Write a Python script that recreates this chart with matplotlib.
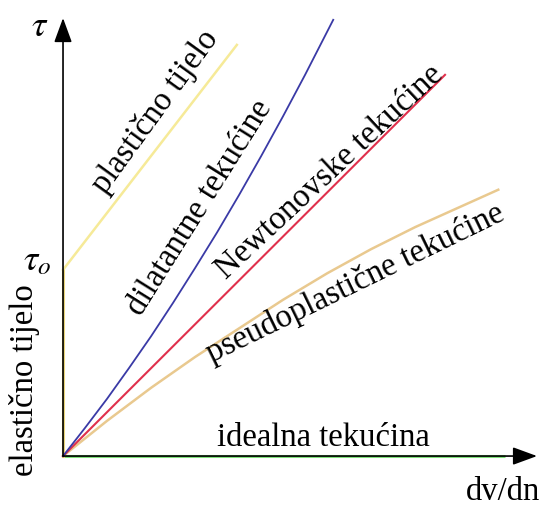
import matplotlib.pyplot as plt

plt.rcParams['font.family'] = ['Liberation Serif', 'DejaVu Serif']
plt.rcParams['mathtext.fontset'] = 'stix'

# shear rate (dv/dn) vs shear stress (tau), arbitrary units
ideal_x = [0, 10.05]
ideal_y = [0, 0]

elastic_x = [0, 0]
elastic_y = [0, 4.23]

plastic_x = [0, 3.95]
plastic_y = [4.23, 9.34]

newton_x = [0, 8.68]
newton_y = [0, 8.66]

dilatant_x = [0, 0.5, 1, 1.5, 2, 2.5, 3, 3.5, 4, 4.5, 5, 5.5, 6.14]
dilatant_y = [0, 0.64, 1.3, 2.0, 2.72, 3.48, 4.27, 5.08, 5.93, 6.81, 7.72, 8.66, 9.91]

pseudo_x = [0, 1, 2, 3, 4, 5, 6, 7, 8, 9, 9.89]
pseudo_y = [0, 0.8, 1.55, 2.25, 2.9, 3.55, 4.15, 4.7, 5.2, 5.65, 6.05]

fig = plt.figure(figsize=(5.48, 5.08), dpi=100)
ax = fig.add_axes([0, 0, 1, 1])
ax.set_xlim(-1.432, 11.02)
ax.set_ylim(-1.18, 10.36)
ax.axis('off')

# axes arrows
ax.annotate('', xy=(0, 9.95), xytext=(0, 0),
            arrowprops=dict(arrowstyle='-|>,head_length=0.6,head_width=0.22',
                            color='black', lw=1.2, mutation_scale=25,
                            shrinkA=0, shrinkB=0))
ax.annotate('', xy=(10.77, 0), xytext=(0, 0),
            arrowprops=dict(arrowstyle='-|>,head_length=0.6,head_width=0.22',
                            color='black', lw=1.2, mutation_scale=25,
                            shrinkA=0, shrinkB=0))

ax.plot(ideal_x, ideal_y, color='#7fe07a', lw=2.2, solid_capstyle='butt')
ax.plot(elastic_x, elastic_y, color='#ead67a', lw=2.2)
ax.plot(plastic_x, plastic_y, color='#f6ea98', lw=1.8)
ax.plot(pseudo_x, pseudo_y, color='#e9c98f', lw=1.8)
ax.plot(newton_x, newton_y, color='#e0304c', lw=1.5)
ax.plot(dilatant_x, dilatant_y, color='#3a3aa6', lw=1.3)

fs = 23.5
ax.text(-0.52, 9.73, r'$\tau$', fontsize=26, ha='center', va='center')
ax.text(-0.58, 4.41, r'$\tau_o$', fontsize=26, ha='center', va='center')
ax.text(2.09, 7.82, 'plastično tijelo', fontsize=fs, rotation=54,
        ha='center', va='center', rotation_mode='anchor')
ax.text(3.1, 5.64, 'dilatantne tekućine', fontsize=fs, rotation=58,
        ha='center', va='center', rotation_mode='anchor')
ax.text(6.05, 6.45, 'Newtonovske tekućine', fontsize=fs, rotation=43,
        ha='center', va='center', rotation_mode='anchor')
ax.text(6.64, 3.93, 'pseudoplastične tekućine', fontsize=fs, rotation=26,
        ha='center', va='center', rotation_mode='anchor')
ax.text(5.91, 0.23, 'idealna tekućina', fontsize=fs, ha='center', va='baseline')
ax.text(-0.88, 1.73, 'elastično tijelo', fontsize=fs, rotation=90,
        ha='center', va='center')
ax.text(10.0, -1.0, 'dv/dn', fontsize=fs, ha='center', va='baseline')

fig.savefig('out.png', dpi=100)
